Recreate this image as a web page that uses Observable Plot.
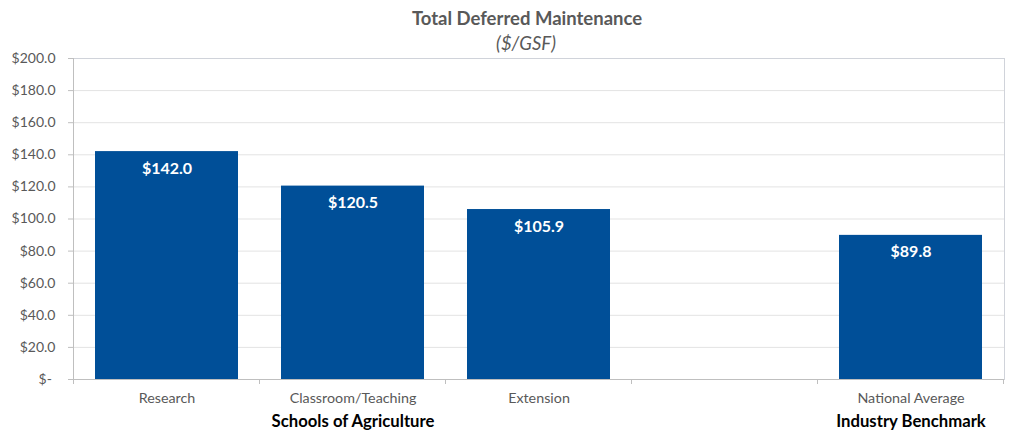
<!DOCTYPE html>
<html>
<head>
<meta charset="utf-8">
<script src="https://cdn.jsdelivr.net/npm/d3@7"></script>
<script src="https://cdn.jsdelivr.net/npm/@observablehq/plot@0.6"></script>
<style>
  html, body { margin: 0; padding: 0; background: #fff; }
  body { width: 1010px; height: 431px; overflow: hidden; font-family: Lato, "Open Sans", sans-serif; }
  #header { position: relative; height: 40px; width: 1010px; color: #595959; z-index: 1; }
  #title { position: absolute; left: 527px; top: 9px; transform: translateX(-50%); font-size: 18.5px; line-height: 1; font-weight: bold; white-space: nowrap; }
  #subtitle { position: absolute; left: 526px; top: 34px; transform: translateX(-50%); font-size: 18.5px; line-height: 1; font-style: italic; white-space: nowrap; }
  svg { display: block; }
</style>
</head>
<body>
<div id="header"><div id="title">Total Deferred Maintenance</div><div id="subtitle">($/GSF)</div></div>
<div id="chart"></div>
<script>
const categories = ["Research", "Classroom/Teaching", "Extension", "", "National Average"];
const barCategories = ["Research", "Classroom/Teaching", "Extension", "National Average"];
const values = [142.0, 120.5, 105.9, 89.8];
const yTicks = [0, 20, 40, 60, 80, 100, 120, 140, 160, 180, 200];
const groupCategories = ["Classroom/Teaching", "National Average"];
const groupLabels = ["Schools of Agriculture", "Industry Benchmark"];

const data = barCategories.map((c, i) => ({cat: c, value: values[i]}));
const groups = groupCategories.map((c, i) => ({cat: c, label: groupLabels[i]}));

const fmtMoney = v => v === 0 ? "$-\u00a0" : "$" + v.toFixed(1);

function boundaryTicks(index, scales, values, dims) {
  const x = scales.x;
  const bw = x.bandwidth();
  const step = x.step();
  const half = (step - bw) / 2;
  const edges = categories.map(c => x(c) - half);
  edges.push(x(categories[categories.length - 1]) + bw + half);
  const y0 = dims.height - dims.marginBottom;
  const g = d3.create("svg:g");
  g.selectAll("line").data(edges).join("line")
    .attr("x1", d => d).attr("x2", d => d)
    .attr("y1", y0).attr("y2", y0 + 5)
    .attr("stroke", "#bfbfbf");
  return g.node();
}

const chart = Plot.plot({
  width: 1010,
  height: 391,
  marginLeft: 73,
  marginRight: 6,
  marginTop: 18,
  marginBottom: 52,
  style: {fontFamily: "Lato, 'Open Sans', sans-serif", background: "transparent"},
  x: {domain: categories, paddingInner: 0.23, paddingOuter: 0.115},
  y: {domain: [0, 200]},
  marks: [
    Plot.gridY(yTicks, {stroke: "#e3e3e3", strokeOpacity: 1}),
    Plot.frame({stroke: "#d0d3da"}),
    Plot.barY(data, {x: "cat", y: "value", fill: "#004f98"}),
    Plot.text(data, {x: "cat", y: "value", text: d => fmtMoney(d.value), dy: 17, fill: "white", fontWeight: "bold", fontSize: 16}),
    Plot.frame({anchor: "left", stroke: "#bfbfbf"}),
    Plot.ruleY([0], {stroke: "#bfbfbf"}),
    Plot.axisY(yTicks, {tickFormat: fmtMoney, tickSize: 5, tickPadding: 13, fontSize: 14, color: "#595959", stroke: "#bfbfbf", label: null}),
    Plot.axisX({tickSize: 0, tickPadding: 13, fontSize: 14.3, color: "#595959", label: null, tickFormat: d => d}),
    boundaryTicks,
    Plot.text(groups, {x: "cat", text: "label", frameAnchor: "bottom", lineAnchor: "middle", dy: 42, fontWeight: "bold", fontSize: 16.7, fill: "black"})
  ]
});
document.getElementById("chart").appendChild(chart);
</script>
</body>
</html>
